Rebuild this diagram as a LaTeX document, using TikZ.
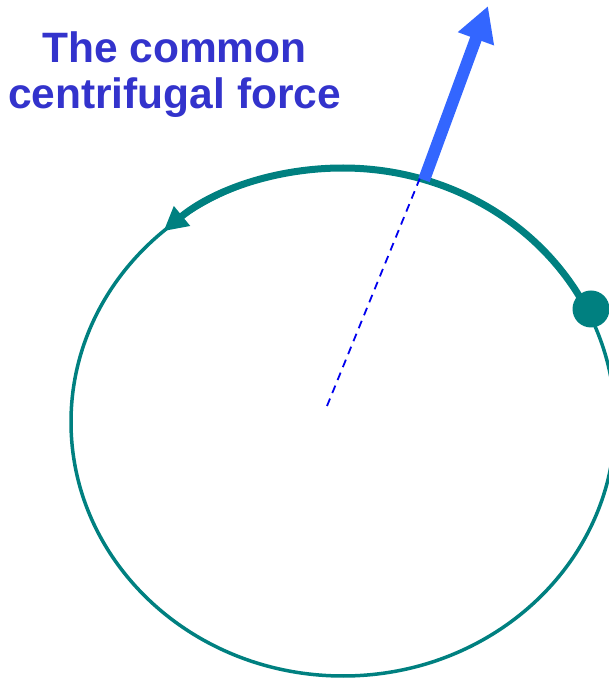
\documentclass[tikz,border=0pt]{standalone}
\usepackage{fontspec}
\setmainfont{Liberation Sans}
\usetikzlibrary{arrows.meta,calc}
\definecolor{orbit}{HTML}{008080}
\definecolor{titleblue}{HTML}{3333CC}
\definecolor{forceblue}{HTML}{3366FF}
\definecolor{dashblue}{HTML}{0000EE}
\tikzset{
  orbitthin/.style={draw=orbit, line width=3.5pt},
  orbitthick/.style={draw=orbit, line width=7pt, -{Triangle[length=24pt,width=24pt]}},
  forcearrow/.style={draw=forceblue, line width=12pt, -{Triangle[length=35pt,width=36pt]}},
  radius line/.style={draw=dashblue, line width=1.8pt, dash pattern=on 8pt off 6pt},
  titletext/.style={text=titleblue, font=\fontsize{42.5}{46}\selectfont\bfseries, inner sep=0pt, anchor=base}
}
\begin{document}
\begin{tikzpicture}[x=1pt,y=1pt]
\useasboundingbox (0,0) rectangle (609,679);
\clip (0,0) rectangle (609,679);
% orbit
\coordinate (C) at (343,257);
\draw[orbitthin] (C) ellipse [x radius=272, y radius=254];
\coordinate (arcstart) at ($(C)+(26.4:272 and 254)$);
\draw[orbitthick] (arcstart) arc [start angle=26.4, end angle=131.3, x radius=272, y radius=254];
% body
\node[circle, fill=orbit, minimum size=37pt, inner sep=0pt] (body) at (591,370) {};
% radius and force
\coordinate (centre) at (327,273);
\coordinate (rim) at (420,501);
\draw[radius line] (centre) -- (rim);
\coordinate (forcebase) at (424,499);
\coordinate (forcetip) at (488,673);
\draw[forcearrow] (forcebase) -- (forcetip);
% title
\node[titletext] (title1) at (174.5,616) {The common};
\node[titletext] (title2) at (174.5,570) {centrifugal force};
\end{tikzpicture}
\end{document}
